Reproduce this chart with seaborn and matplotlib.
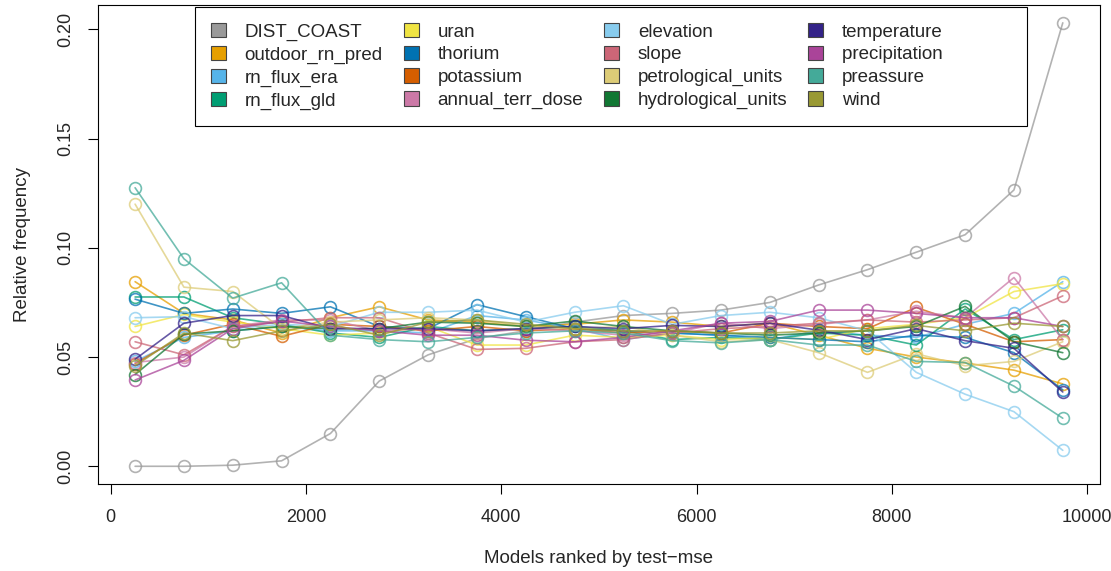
import numpy as np
import pandas as pd
import seaborn as sns
import matplotlib.pyplot as plt
from matplotlib.patches import Patch

# model rank bins (centres)
ranks = [250, 750, 1250, 1750, 2250, 2750, 3250, 3750, 4250, 4750,
         5250, 5750, 6250, 6750, 7250, 7750, 8250, 8750, 9250, 9750]

# relative frequency of each variable per rank bin
dist_coast = [0.000, 0.000, 0.0005, 0.0025, 0.015, 0.039, 0.051, 0.0585, 0.062, 0.066,
              0.069, 0.070, 0.0715, 0.075, 0.083, 0.090, 0.098, 0.106, 0.1265, 0.203]
outdoor_rn_pred = [0.0845, 0.070, 0.067, 0.061, 0.068, 0.073, 0.067, 0.066, 0.064, 0.065,
                   0.067, 0.066, 0.064, 0.0655, 0.060, 0.054, 0.050, 0.0473, 0.044, 0.0377]
rn_flux_era = [0.048, 0.059, 0.062, 0.064, 0.062, 0.062, 0.061, 0.069, 0.067, 0.063,
               0.058, 0.061, 0.060, 0.058, 0.062, 0.060, 0.059, 0.065, 0.070, 0.0845]
rn_flux_gld = [0.0775, 0.0775, 0.068, 0.065, 0.061, 0.059, 0.064, 0.062, 0.063, 0.064,
               0.062, 0.058, 0.059, 0.058, 0.061, 0.060, 0.0555, 0.072, 0.058, 0.0625]
uran = [0.064, 0.0695, 0.066, 0.063, 0.060, 0.061, 0.064, 0.0555, 0.0555, 0.060,
        0.059, 0.060, 0.058, 0.059, 0.058, 0.063, 0.065, 0.068, 0.080, 0.0836]
thorium = [0.0765, 0.070, 0.072, 0.070, 0.073, 0.064, 0.063, 0.074, 0.0685, 0.063,
           0.062, 0.061, 0.060, 0.059, 0.058, 0.057, 0.060, 0.059, 0.052, 0.035]
potassium = [0.047, 0.060, 0.065, 0.0595, 0.065, 0.064, 0.062, 0.064, 0.062, 0.063,
             0.061, 0.062, 0.061, 0.0655, 0.064, 0.063, 0.0727, 0.065, 0.057, 0.058]
annual_terr_dose = [0.0475, 0.050, 0.064, 0.067, 0.067, 0.062, 0.063, 0.061, 0.063, 0.062,
                    0.060, 0.061, 0.0655, 0.063, 0.065, 0.067, 0.071, 0.068, 0.0864, 0.058]
elevation = [0.068, 0.0685, 0.063, 0.065, 0.064, 0.0705, 0.0705, 0.0715, 0.066, 0.0705,
             0.0735, 0.065, 0.069, 0.0705, 0.068, 0.062, 0.043, 0.033, 0.025, 0.0073]
slope = [0.057, 0.051, 0.064, 0.066, 0.068, 0.068, 0.061, 0.0535, 0.054, 0.057,
         0.058, 0.061, 0.063, 0.064, 0.0655, 0.067, 0.066, 0.067, 0.068, 0.078]
petrological_units = [0.120, 0.082, 0.080, 0.063, 0.066, 0.067, 0.068, 0.067, 0.064, 0.063,
                      0.064, 0.060, 0.057, 0.058, 0.052, 0.043, 0.0515, 0.046, 0.048, 0.057]
hydrological_units = [0.042, 0.0605, 0.062, 0.064, 0.063, 0.063, 0.066, 0.0655, 0.064, 0.0665,
                      0.064, 0.062, 0.061, 0.060, 0.061, 0.062, 0.064, 0.0732, 0.057, 0.052]
temperature = [0.049, 0.0655, 0.069, 0.069, 0.063, 0.063, 0.063, 0.062, 0.063, 0.064,
               0.063, 0.0645, 0.064, 0.0655, 0.0623, 0.058, 0.063, 0.0575, 0.054, 0.034]
precipitation = [0.0395, 0.0485, 0.063, 0.0665, 0.064, 0.062, 0.060, 0.060, 0.0577, 0.057,
                 0.059, 0.062, 0.0655, 0.0663, 0.0715, 0.0715, 0.070, 0.068, 0.068, 0.064]
preassure = [0.1275, 0.095, 0.077, 0.084, 0.060, 0.058, 0.057, 0.059, 0.061, 0.062,
             0.061, 0.0575, 0.0565, 0.058, 0.0555, 0.0555, 0.048, 0.0475, 0.0367, 0.022]
wind = [0.046, 0.061, 0.0575, 0.062, 0.065, 0.060, 0.066, 0.067, 0.065, 0.063,
        0.062, 0.062, 0.061, 0.061, 0.062, 0.062, 0.0645, 0.062, 0.0655, 0.064]

names = ['DIST_COAST', 'outdoor_rn_pred', 'rn_flux_era', 'rn_flux_gld',
         'uran', 'thorium', 'potassium', 'annual_terr_dose',
         'elevation', 'slope', 'petrological_units', 'hydrological_units',
         'temperature', 'precipitation', 'preassure', 'wind']
series = [dist_coast, outdoor_rn_pred, rn_flux_era, rn_flux_gld,
          uran, thorium, potassium, annual_terr_dose,
          elevation, slope, petrological_units, hydrological_units,
          temperature, precipitation, preassure, wind]
colors = ['#999999', '#E69F00', '#56B4E9', '#009E73',
          '#F0E442', '#0072B2', '#D55E00', '#CC79A7',
          '#88CCEE', '#CC6677', '#DDCC77', '#117733',
          '#332288', '#AA4499', '#44AA99', '#999933']
palette = dict(zip(names, colors))

df = pd.concat([pd.DataFrame({'rank': ranks, 'freq': vals, 'variable': name})
                for name, vals in zip(names, series)], ignore_index=True)

sns.set_style('white')
plt.rcParams['font.family'] = ['Liberation Sans', 'DejaVu Sans']
fs = 13.5

fig = plt.figure(figsize=(11.11, 5.71), dpi=100)
ax = fig.add_axes([0.0882, 0.1524, 0.9018, 0.8386])

sns.lineplot(data=df, x='rank', y='freq', hue='variable', hue_order=names,
             palette=palette, marker='o', markersize=8.5, linewidth=1.2,
             alpha=0.75, errorbar=None, sort=False, legend=False, ax=ax)
# open circles like R's pch=1
for line in ax.lines:
    c = line.get_color()
    line.set_markeredgecolor(c)
    line.set_markerfacecolor('none')
    line.set_markeredgewidth(1.2)

ax.set_xlim(-130, 10130)
ax.set_ylim(-0.0081, 0.2111)
ax.set_xticks([0, 2000, 4000, 6000, 8000, 10000])
ax.set_yticks([0, 0.05, 0.10, 0.15, 0.20])
ax.set_yticklabels(['0.00', '0.05', '0.10', '0.15', '0.20'], rotation=90, va='center')
ax.tick_params(direction='out', length=7, width=0.8, labelsize=13, color='black',
               bottom=True, left=True)
ax.tick_params(axis='x', pad=11)
ax.tick_params(axis='y', pad=10)
for sp in ax.spines.values():
    sp.set_visible(True)
    sp.set_color('black')
    sp.set_linewidth(0.8)

ax.set_xlabel('Models ranked by test\u2212mse', fontsize=fs, labelpad=17)
ax.set_ylabel('Relative frequency', fontsize=fs, labelpad=19)

# R legend uses equal column widths; pad the last column so the box is as wide
leg_labels = list(names)
leg_labels[13] = leg_labels[13] + ' ' * 13
handles = [Patch(facecolor=c, edgecolor='#444444', linewidth=0.8) for c in colors]
leg = ax.legend(handles, leg_labels, ncol=4, loc='upper center',
                bbox_to_anchor=(0.512, 0.996), borderaxespad=0,
                fontsize=fs, frameon=True, fancybox=False,
                handlelength=0.8, handleheight=0.8, handletextpad=1.0,
                labelspacing=0.27, borderpad=0.85, columnspacing=1.12)
leg.get_frame().set_edgecolor('black')
leg.get_frame().set_linewidth(0.8)
leg.get_frame().set_alpha(1)

fig.savefig('out.png', dpi=100)
